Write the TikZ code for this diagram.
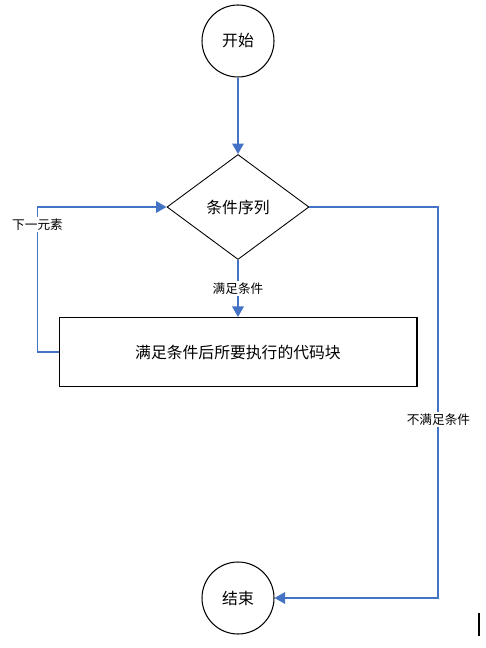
\documentclass[tikz,border=0pt]{standalone}
\usepackage{fontspec}
\setmainfont{Noto Sans CJK SC}
\usetikzlibrary{shapes.geometric, arrows.meta, positioning, calc}
\definecolor{flowblue}{HTML}{4472C4}

\tikzset{
  flowline/.style={draw=flowblue, line width=1.1pt, -{Triangle[length=6pt,width=6.5pt]}},
  terminal/.style={circle, draw, line width=0.6pt, minimum size=1.44cm, inner sep=0pt, font=\fontsize{9}{11}\selectfont},
  decision/.style={diamond, draw, line width=0.5pt, minimum width=2.84cm, minimum height=2.1cm, inner sep=0pt, font=\fontsize{9}{11}\selectfont},
  process/.style={rectangle, draw, line width=0.6pt, minimum width=7.16cm, minimum height=1.38cm, font=\fontsize{9}{11}\selectfont},
  edgelabel/.style={fill=white, inner sep=1pt, font=\fontsize{7.2}{9}\selectfont}
}

\begin{document}
\begin{tikzpicture}[x=0.02cm, y=-0.02cm]
\useasboundingbox (0,0) rectangle (485,648);
\node[terminal] (start) at (238,41) {开始};
\node[decision] (cond) at (238,207) {条件序列};
\node[process] (body) at (238,352) {满足条件后所要执行的代码块};
\node[terminal] (stop) at (238,598) {结束};
\draw[flowline] (start) -- (cond);
\draw[flowline] (cond) -- node[edgelabel, pos=0.5] {满足条件} (body);
\draw[flowline] (body.west) -- ++(-21,0) |- (cond.west) node[edgelabel, pos=0.44] {下一元素};
\draw[flowline] (cond.east) -- ++(129,0) |- (stop.east) node[edgelabel, pos=0.272] {不满足条件};
% cursor mark
\draw[line width=1pt] (479,613) -- (479,636);
\end{tikzpicture}
\end{document}
